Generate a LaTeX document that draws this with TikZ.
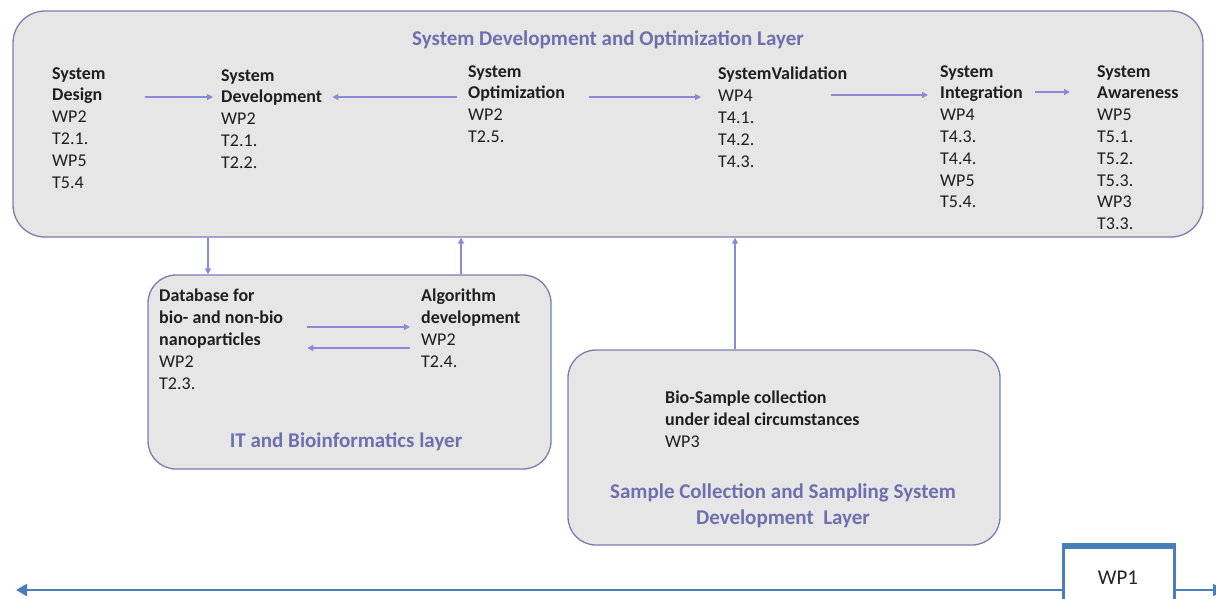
\documentclass[tikz,border=0pt]{standalone}
\usepackage{fontspec}
\setmainfont{Carlito}
\usetikzlibrary{arrows.meta,calc}
\definecolor{boxfill}{HTML}{E6E6E6}
\definecolor{boxline}{HTML}{7C7CB2}
\definecolor{arrc}{HTML}{8A8AD6}
\definecolor{layertxt}{HTML}{6F6FB0}
\definecolor{wpblue}{HTML}{4A7EBB}
\begin{document}
\begin{tikzpicture}[x=1pt,y=-1pt,
 layer/.style={draw=boxline, fill=boxfill, line width=1.3pt, rounded corners=32pt, inner sep=0pt},
 txt/.style={anchor=north west, inner sep=0pt, align=left, font=\fontsize{18}{21.8}\selectfont, text=black!88},
 ltitle/.style={inner sep=0pt, align=center, font=\fontsize{21}{26}\selectfont\bfseries, text=layertxt},
 arr/.style={draw=arrc, line width=1.5pt, -{Triangle[length=6pt,width=6pt]}},
 wpline/.style={draw=wpblue, line width=2.5pt},
]
\useasboundingbox (0,0) rectangle (1216,598);
% layers
\node[layer, minimum width=1190pt, minimum height=226pt] (top) at (608,124) {};
\node[layer, minimum width=403pt, minimum height=194pt, rounded corners=28pt] (it) at (349.5,372) {};
\node[layer, minimum width=432pt, minimum height=195pt, rounded corners=28pt] (sc) at (784,447.5) {};
% layer titles
\node[ltitle] (ttop) at (608,40) {System Development and Optimization Layer};
\node[ltitle] (tit) at (346,442) {IT and Bioinformatics layer};
\node[ltitle] (tsc) at (783,506) {Sample Collection and Sampling System\\Development\ \ Layer};
% items in top layer
\node[txt] (sd) at (52,67) {\textbf{System}\\\textbf{Design}\\WP2\\T2.1.\\WP5\\T5.4};
\node[txt] (sdev) at (221,69) {\textbf{System}\\\textbf{Development}\\WP2\\T2.1.\\T2.2.};
\node[txt] (sopt) at (468,65) {\textbf{System}\\\textbf{Optimization}\\WP2\\T2.5.};
\node[txt] (sval) at (718,67) {\textbf{SystemValidation}\\WP4\\T4.1.\\T4.2.\\T4.3.};
\node[txt] (sint) at (940,65) {\textbf{System}\\\textbf{Integration}\\WP4\\T4.3.\\T4.4.\\WP5\\T5.4.};
\node[txt] (saw) at (1097,65) {\textbf{System}\\\textbf{Awareness}\\WP5\\T5.1.\\T5.2.\\T5.3.\\WP3\\T3.3.};
% items in IT layer
\node[txt] (db) at (159,289) {\textbf{Database for}\\\textbf{bio- and non-bio}\\\textbf{nanoparticles}\\WP2\\T2.3.};
\node[txt] (alg) at (421,289) {\textbf{Algorithm}\\\textbf{development}\\WP2\\T2.4.};
% item in sample layer
\node[txt] (bio) at (665,391) {\textbf{Bio-Sample collection}\\\textbf{under ideal circumstances}\\WP3};
% helper coordinates for connector heights / positions
\coordinate (h97) at (0,97);
\coordinate (h95) at (0,95);
\coordinate (h92) at (0,92);
\coordinate (h327) at (0,327);
\coordinate (h348) at (0,348);
\coordinate (v208) at (208,0);
\coordinate (v461) at (461,0);
\coordinate (v735) at (735,0);
% top-layer arrows
\draw[arr, shorten <=39pt, shorten >=8pt] (sd.east |- h97) -- (sdev.west |- h97);
\draw[arr, shorten <=11pt, shorten >=10pt] (sopt.west |- h97) -- (sdev.east |- h97);
\draw[arr, shorten <=24pt, shorten >=17pt] (sopt.east |- h97) -- (sval.west |- h97);
\draw[arr, shorten <=-16pt, shorten >=12pt] (sval.east |- h95) -- (sint.west |- h95);
\draw[arr, shorten <=12pt, shorten >=27pt] (sint.east |- h92) -- (saw.west |- h92);
% IT layer arrows
\draw[arr, shorten <=24pt, shorten >=11pt] (db.east |- h327) -- (alg.west |- h327);
\draw[arr, shorten <=11pt, shorten >=24pt] (alg.west |- h348) -- (db.east |- h348);
% vertical arrows
\draw[arr] (top.south -| v208) -- (it.north -| v208);
\draw[arr] (it.north -| v461) -- (top.south -| v461);
\draw[arr] (sc.north -| v735) -- (top.south -| v735);
% WP1 timeline
\coordinate (tl) at (16,590);
\coordinate (tr) at (1224,590);
\draw[wpline, {Triangle[length=11pt,width=12pt]}-{Triangle[length=11pt,width=12pt]}] (tl) -- (tr);
\node[draw=wpblue, line width=3pt, fill=white, minimum width=111pt, minimum height=64pt, inner sep=0pt] (wp1) at (1118.5,579) {};
\draw[wpblue, line width=4.5pt] (wp1.north west) -- (wp1.north east);
\node[inner sep=0pt, font=\fontsize{21}{22}\selectfont, text=black!85] (wp1t) at (1118,578) {WP1};
\end{tikzpicture}
\end{document}
